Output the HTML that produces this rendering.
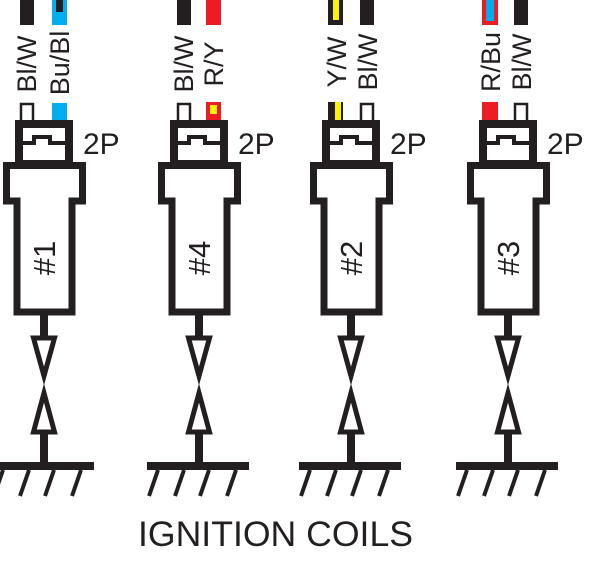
<!DOCTYPE html>
<html><head><meta charset="utf-8"><style>
html,body{margin:0;padding:0;background:#fff;}
svg{display:block;}
text{font-family:"Liberation Sans",sans-serif;fill:#231f20;}
</style></head><body>
<svg width="604" height="561" viewBox="0 0 604 561" xmlns="http://www.w3.org/2000/svg">
<defs>
<g id="coil" stroke="#231f20" fill="none">
  <rect x="-25" y="124" width="50" height="40" stroke-width="8" fill="#fff"/>
  <polyline points="-21,143 -10,143 -10,137 6,137 6,143 21,143" stroke-width="4"/>
  <path d="M-37.5 165.5 H38.5 V201 H28 V312 H-27 V201 H-37.5 Z" stroke-width="7" fill="#fff"/>
  <line x1="0" y1="315" x2="0" y2="340" stroke-width="8"/>
  <polygon points="-10.5,338 10.5,338 0,376" stroke-width="5" fill="#fff" stroke-linejoin="miter"/>
  <polygon points="0,393 -10.5,432 10.5,432" stroke-width="5" fill="#fff"/>
  <line x1="0" y1="432" x2="0" y2="463" stroke-width="8"/>
  <rect x="-52" y="462" width="102" height="8" fill="#231f20" stroke="none"/>
  <g stroke-width="4">
    <line x1="-41" y1="470" x2="-50" y2="496"/>
    <line x1="-15" y1="470" x2="-24" y2="496"/>
    <line x1="10" y1="470" x2="1" y2="496"/>
    <line x1="37" y1="470" x2="28" y2="496"/>
  </g>
</g>
<g id="bw">
  <rect x="-7" y="0" width="14" height="25" fill="#231f20"/>
  <rect x="-6" y="104" width="12" height="18" fill="#fff" stroke="#231f20" stroke-width="2.5"/>
</g>
</defs>

<!-- Coil 1 -->
<g transform="translate(44,0)">
  <use href="#bw" x="-17"/>
  <rect x="8" y="0" width="15" height="25" fill="#00aeef"/>
  <rect x="12" y="0" width="7" height="12" fill="#231f20"/>
  <rect x="8" y="103" width="15" height="18" fill="#00aeef"/>
  <use href="#coil"/>
  <text transform="translate(-8,64) rotate(-90)" text-anchor="middle" font-size="27">Bl/W</text>
  <text transform="translate(25,63) rotate(-90)" text-anchor="middle" font-size="27">Bu/Bl</text>
  <text x="39" y="154" font-size="30">2P</text>
  <text transform="translate(11,258) rotate(-90)" text-anchor="middle" font-size="31">#1</text>
</g>

<!-- Coil 4 -->
<g transform="translate(199,0)">
  <use href="#bw" x="-15"/>
  <rect x="7" y="0" width="15" height="25" fill="#ed1c24"/>
  <rect x="7" y="102" width="15" height="20" fill="#ed1c24"/>
  <rect x="11" y="105" width="7" height="9" fill="#fff200"/>
  <use href="#coil"/>
  <text transform="translate(-6,64) rotate(-90)" text-anchor="middle" font-size="27">Bl/W</text>
  <text transform="translate(24,64) rotate(-90)" text-anchor="middle" font-size="27">R/Y</text>
  <text x="39" y="154" font-size="30">2P</text>
  <text transform="translate(11,258) rotate(-90)" text-anchor="middle" font-size="31">#4</text>
</g>

<!-- Coil 2 -->
<g transform="translate(351,0)">
  <rect x="-23" y="0" width="15" height="25" fill="#231f20"/>
  <rect x="-18" y="0" width="6" height="20" fill="#fff200"/>
  <rect x="-23" y="102" width="15" height="20" fill="#231f20"/>
  <rect x="-16" y="102" width="6" height="18" fill="#fff200"/>
  <use href="#bw" x="16"/>
  <use href="#coil"/>
  <text transform="translate(-5,62) rotate(-90)" text-anchor="middle" font-size="27">Y/W</text>
  <text transform="translate(26,62) rotate(-90)" text-anchor="middle" font-size="27">Bl/W</text>
  <text x="39" y="154" font-size="30">2P</text>
  <text transform="translate(11,258) rotate(-90)" text-anchor="middle" font-size="31">#2</text>
</g>

<!-- Coil 3 -->
<g transform="translate(508,0)">
  <rect x="-26" y="0" width="16" height="25" fill="#ed1c24"/>
  <rect x="-22" y="0" width="8" height="21" fill="#00aeef"/>
  <rect x="-26" y="102" width="16" height="20" fill="#ed1c24"/>
  <use href="#bw" x="13"/>
  <use href="#coil"/>
  <text transform="translate(-8,62) rotate(-90)" text-anchor="middle" font-size="27">R/Bu</text>
  <text transform="translate(23,62) rotate(-90)" text-anchor="middle" font-size="27">Bl/W</text>
  <text x="39" y="154" font-size="30">2P</text>
  <text transform="translate(11,258) rotate(-90)" text-anchor="middle" font-size="31">#3</text>
</g>

<text x="138" y="546" font-size="35" textLength="275" lengthAdjust="spacingAndGlyphs">IGNITION COILS</text>
</svg>
</body></html>
